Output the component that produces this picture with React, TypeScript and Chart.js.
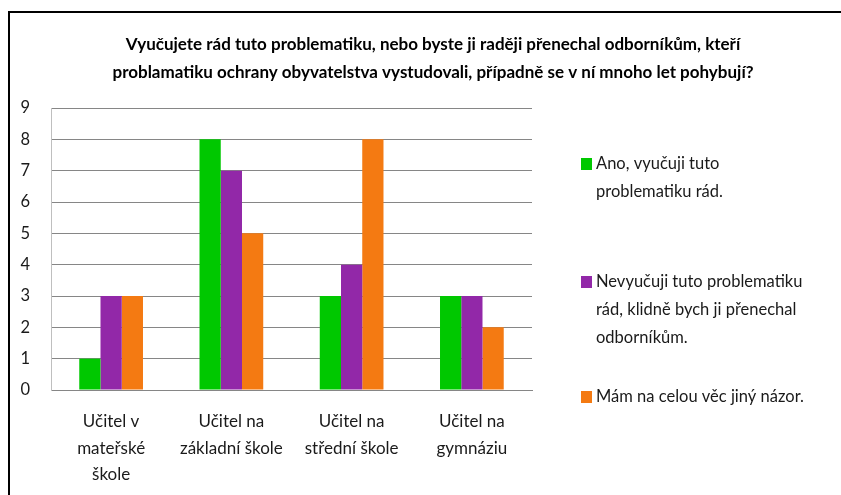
import React, { useEffect, useRef } from "react";
import { Chart, registerables } from "chart.js";

Chart.register(...registerables);

const categories: string[][] = [
  ["Učitel v", "mateřské", "škole"],
  ["Učitel na", "základní škole"],
  ["Učitel na", "střední škole"],
  ["Učitel na", "gymnáziu"],
];
const seriesNames = [
  "Ano, vyučuji tuto problematiku rád.",
  "Nevyučuji tuto problematiku rád, klidně bych ji přenechal odborníkům.",
  "Mám na celou věc jiný názor.",
];
const legendLines: string[][] = [
  ["Ano, vyučuji tuto", "problematiku rád."],
  ["Nevyučuji tuto problematiku", "rád, klidně bych ji přenechal", "odborníkům."],
  ["Mám na celou věc jiný názor."],
];
const anoValues = [1, 8, 3, 3];
const nevyucujiValues = [3, 7, 4, 3];
const jinyValues = [3, 5, 8, 2];
const titleLines = [
  "Vyučujete rád tuto problematiku, nebo byste ji raději přenechal odborníkům, kteří",
  "problamatiku ochrany obyvatelstva vystudovali, případně se v ní mnoho let pohybují?",
];
const colors = ["#00c800", "#9228a8", "#f47a12"];

const FONT = "Lato, 'Open Sans', sans-serif";

const decorPlugin = {
  id: "decor",
  beforeDraw(chart: any) {
    const ctx = chart.ctx;
    ctx.save();
    ctx.fillStyle = "#ffffff";
    ctx.fillRect(0, 0, chart.width, chart.height);
    ctx.fillStyle = "#000000";
    ctx.fillRect(8, 11, chart.width - 8, 2);
    ctx.fillRect(8, 11, 2, chart.height - 11);
    ctx.restore();
  },
  afterDraw(chart: any) {
    const ctx = chart.ctx;
    ctx.save();
    // title
    ctx.fillStyle = "#000000";
    ctx.font = `bold 17px ${FONT}`;
    ctx.textAlign = "center";
    ctx.textBaseline = "middle";
    titleLines.forEach((t, i) => ctx.fillText(t, 433, 45 + i * 28));
    // legend
    ctx.font = `16.5px ${FONT}`;
    ctx.textAlign = "left";
    const starts = [164, 282, 397];
    chart.data.datasets.forEach((ds: any, i: number) => {
      const y0 = starts[i];
      ctx.fillStyle = ds.backgroundColor;
      ctx.fillRect(581, y0 - 6, 11, 12);
      ctx.fillStyle = "#1a1a1a";
      legendLines[i].forEach((line, j) => ctx.fillText(line, 596, y0 + j * 28));
    });
    ctx.restore();
  },
};

export default function App() {
  const ref = useRef<HTMLCanvasElement | null>(null);
  useEffect(() => {
    if (!ref.current) return;
    const chart = new Chart(ref.current, {
      type: "bar",
      data: {
        labels: categories,
        datasets: [
          { label: seriesNames[0], data: anoValues, backgroundColor: colors[0] },
          { label: seriesNames[1], data: nevyucujiValues, backgroundColor: colors[1] },
          { label: seriesNames[2], data: jinyValues, backgroundColor: colors[2] },
        ],
      },
      options: {
        animation: false,
        responsive: false,
        maintainAspectRatio: false,
        layout: { padding: { left: 0, top: 108, right: 309, bottom: 0 } },
        datasets: { bar: { barPercentage: 1, categoryPercentage: 0.53 } },
        plugins: {
          legend: { display: false },
          title: { display: false },
          tooltip: { enabled: false },
        },
        scales: {
          x: {
            grid: { display: false, drawTicks: false },
            border: { display: true, color: "#868686", width: 1 },
            ticks: {
              color: "#1a1a1a",
              font: { family: FONT, size: 17, lineHeight: 1.57 },
              padding: 18,
              maxRotation: 0,
              autoSkip: false,
            },
            afterFit(scale: any) {
              scale.height = 105;
            },
          },
          y: {
            min: 0,
            max: 9,
            grid: { color: "#868686", lineWidth: 1, drawTicks: false },
            border: { display: true, color: "#bfbfbf", width: 1 },
            ticks: {
              stepSize: 1,
              color: "#1a1a1a",
              font: { family: FONT, size: 16.5 },
              padding: 21,
            },
            afterFit(scale: any) {
              scale.width = 51;
            },
          },
        },
      },
      plugins: [decorPlugin],
    });
    return () => chart.destroy();
  }, []);
  return (
    <div style={{ position: "absolute", left: 0, top: 0, width: 841, height: 495 }}>
      <canvas ref={ref} width={841} height={495} style={{ width: 841, height: 495 }} />
    </div>
  );
}
